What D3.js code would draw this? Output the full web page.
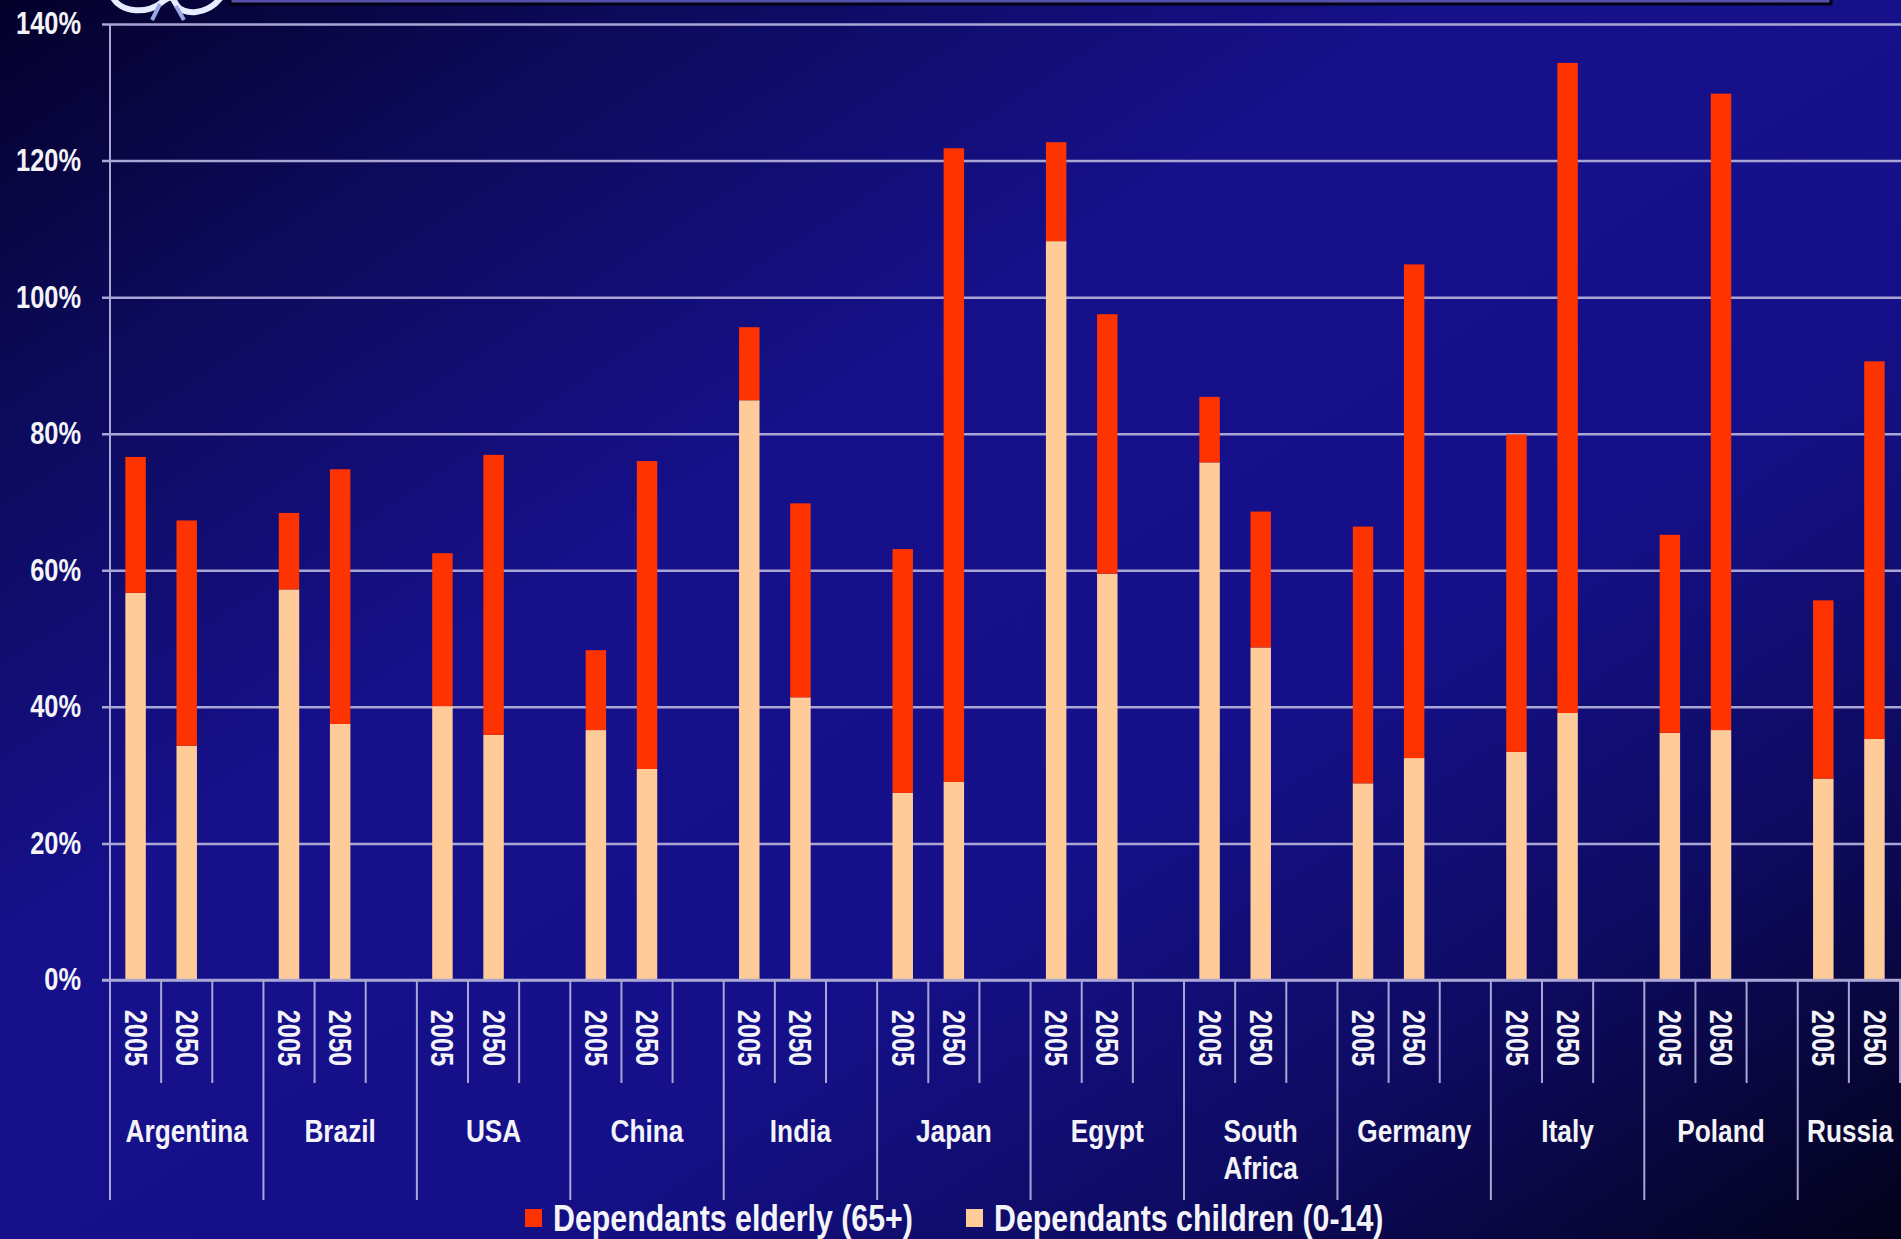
<!DOCTYPE html>
<html>
<head>
<meta charset="utf-8">
<script src="https://cdn.jsdelivr.net/npm/d3@7"></script>
<style>
  html, body { margin: 0; padding: 0; background: #0a0840; overflow: hidden; }
  text { font-family: "Liberation Sans", Arial, sans-serif; font-weight: bold; fill: #f4f4f8; }
</style>
</head>
<body>
<svg></svg>
<script>
  let w = 1901;
  let h = 1239;
  let narrow = 0.82;   // squeeze Liberation Sans Bold to look like Arial Narrow

// Data (percent of working-age population)
const countries = ['Argentina', 'Brazil', 'USA', 'China', 'India', 'Japan', 'Egypt',
  'South Africa', 'Germany', 'Italy', 'Poland', 'Russia'];
const years = ['2005', '2050'];
const children2005 = [56.7, 57.2, 40.1, 36.6, 84.9, 27.4, 108.2, 75.8, 28.8, 33.4, 36.2, 29.5];
const elderly2005  = [19.9, 11.2, 22.4, 11.7, 10.7, 35.7, 14.5,  9.6, 37.6, 46.5, 29.0, 26.1];
const children2050 = [34.3, 37.5, 35.9, 30.9, 41.4, 29.0, 59.5, 48.7, 32.5, 39.1, 36.6, 35.3];
const elderly2050  = [33.0, 37.3, 41.0, 45.1, 28.4, 92.8, 38.0, 19.9, 72.3, 95.2, 93.2, 55.3];
const yTicks = [0, 20, 40, 60, 80, 100, 120, 140];
const seriesNames = ['Dependants elderly (65+)', 'Dependants children (0-14)'];
const seriesColors = ['#ff3300', '#ffcc99'];

const rows = [];
countries.forEach((c, i) => {
  rows.push({country: c, year: '2005', children: children2005[i], elderly: elderly2005[i]});
  rows.push({country: c, year: '2050', children: children2050[i], elderly: elderly2050[i]});
});

const svg = d3.select('svg')
  .attr('width', w)
  .attr('height', h)

// Background gradient
const defs = svg.append('defs');
const grad = defs.append('linearGradient')
  .attr('id', 'bg')
  .attr('x1', 0).attr('y1', 0).attr('x2', 1).attr('y2', 1);
[[0, '#04002a'], [0.16, '#0c0a58'], [0.38, '#16108a'], [0.62, '#15108a'], [0.8, '#0e0b62'], [1, '#02021a']]
  .forEach(s => grad.append('stop').attr('offset', s[0]).attr('stop-color', s[1]));
svg.append('rect').attr('width', w).attr('height', h).attr('fill', 'url(#bg)');

// Header strip and logo fragment at the top edge
svg.append('rect').attr('x', 230).attr('y', -2).attr('width', 1601).attr('height', 6)
  .attr('fill', '#5650ac').attr('stroke', '#000010').attr('stroke-width', 3);
svg.append('path')
  .attr('d', 'M112,-4 C120,14 150,14 162,2 C170,-4 172,-4 176,4 C182,16 208,16 222,-4')
  .attr('fill', 'none').attr('stroke', '#e8ecff').attr('stroke-width', 6);
svg.append('path')
  .attr('d', 'M160,4 L152,20 M176,6 L184,20')
  .attr('fill', 'none').attr('stroke', '#9aa8e8').attr('stroke-width', 4);

// Create Scales
const x0 = 110;
const groupW = 153.43;
const xScale = d3.scaleBand()
  .domain(countries)
  .range([x0, x0 + groupW * countries.length]);

const xInner = d3.scaleBand()
  .domain(['2005', '2050', 'gap'])
  .range([0, xScale.bandwidth()])
  .paddingInner(0.6)
  .paddingOuter(0.3);

const yScale = d3.scaleLinear()
  .domain([0, 140])
  .range([980, 24]);

const gridColor = '#a9a6d6';

// Y axis with gridlines
const yAxis = d3.axisLeft(yScale)
  .tickValues(yTicks)
  .tickFormat(d => d + '%')
  .tickSize(-(w - x0));

const yG = svg.append('g')
  .attr('transform', 'translate(' + x0 + ',0)')
  .call(yAxis);
yG.select('.domain').remove();
yG.selectAll('.tick line')
  .attr('x1', -8)
  .attr('stroke', gridColor)
  .attr('stroke-width', 2.5);
yG.selectAll('.tick text')
  .attr('font-size', 31)
  .attr('x', null)
  .attr('text-anchor', 'end')
  .attr('transform', 'translate(-29,0) scale(' + narrow + ',1)')
  .attr('fill', '#f4f4f8');

svg.append('line')
  .attr('x1', x0).attr('x2', x0)
  .attr('y1', yScale(140)).attr('y2', 1200)
  .attr('stroke', gridColor).attr('stroke-width', 2);

// Draw Bars
const barG = svg.append('g');
const bars = barG.selectAll('g')
  .data(rows)
  .enter()
  .append('g')
  .attr('transform', d => 'translate(' + (xScale(d.country) + xInner(d.year)) + ',0)');

bars.append('rect')
  .attr('width', xInner.bandwidth())
  .attr('y', d => yScale(d.children))
  .attr('height', d => yScale(0) - yScale(d.children))
  .attr('fill', seriesColors[1]);

bars.append('rect')
  .attr('width', xInner.bandwidth())
  .attr('y', d => yScale(d.children + d.elderly))
  .attr('height', d => yScale(d.children) - yScale(d.children + d.elderly))
  .attr('fill', seriesColors[0]);

// X axis: separators, year labels, country labels
const xG = svg.append('g');
countries.forEach(c => {
  const gx = xScale(c);
  const step = xInner.step();
  [1, 2, 3].forEach(k => {
    xG.append('line')
      .attr('x1', gx + k * step).attr('x2', gx + k * step)
      .attr('y1', yScale(0))
      .attr('y2', k === 3 ? 1200 : 1083)
      .attr('stroke', gridColor).attr('stroke-width', 2);
  });
  years.forEach(yr => {
    const cx = gx + xInner(yr) + xInner.bandwidth() / 2;
    xG.append('text')
      .attr('transform', 'translate(' + cx + ',1038) rotate(90) scale(' + narrow + ',1)')
      .attr('text-anchor', 'middle')
      .attr('dominant-baseline', 'central')
      .attr('font-size', 31)
      .text(yr);
  });

  let cx = gx + xScale.bandwidth() / 2;
  const label = xG.append('text')
    .attr('text-anchor', 'middle')
    .attr('font-size', 32)
    .text(c);
  let lw = label.node().getComputedTextLength() * narrow;
  if (lw > xScale.bandwidth() - 8 && c.indexOf(' ') > 0) {
    const parts = c.split(' ');
    label.text(null);
    parts.forEach((p, i) => {
      label.append('tspan')
        .attr('x', 0)
        .attr('dy', i === 0 ? 0 : 37)
        .text(p);
    });
    lw = label.node().getBBox().width * narrow;
  }
  // keep label inside the picture
  cx = Math.min(cx, w - 8 - lw / 2);
  label.attr('transform', 'translate(' + cx + ',1142) scale(' + narrow + ',1)');
});

svg.append('line')
  .attr('x1', x0 - 8).attr('x2', w)
  .attr('y1', yScale(0)).attr('y2', yScale(0))
  .attr('stroke', gridColor).attr('stroke-width', 2.5);

// Legend
const legend = svg.append('g');
const legendX = [525, 966];
seriesNames.forEach((name, i) => {
  legend.append('rect')
    .attr('x', legendX[i]).attr('y', 1209)
    .attr('width', 17).attr('height', 18)
    .attr('fill', seriesColors[i]);
  legend.append('text')
    .attr('transform', 'translate(' + (legendX[i] + 28) + ',1231) scale(' + narrow + ',1)')
    .attr('font-size', 37)
    .text(name);
});
</script>
</body>
</html>
